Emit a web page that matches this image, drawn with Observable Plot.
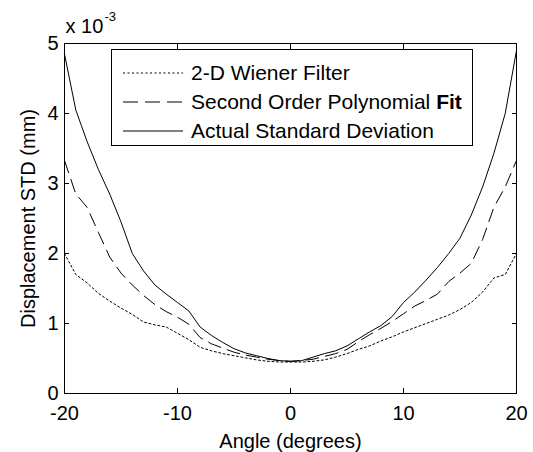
<!DOCTYPE html>
<html>
<head>
<meta charset="utf-8">
<script src="https://cdn.jsdelivr.net/npm/d3@7"></script>
<script src="https://cdn.jsdelivr.net/npm/@observablehq/plot@0.6"></script>
<style>
  body { margin: 0; background: #fff; }
  #wrap { position: relative; width: 533px; height: 452px; font-family: "Liberation Sans", Arial, sans-serif; color: #000; }
  #legend { position: absolute; left: 111px; top: 49px; width: 362px; height: 97px; border: 1px solid #000; box-sizing: border-box; background: #fff; font-size: 21px; }
  .row { position: absolute; left: 0; height: 28px; display: flex; align-items: center; white-space: nowrap; }
  .row svg { margin-left: 11px; margin-right: 8px; }
</style>
</head>
<body>
<div id="wrap"></div>
<script>
// Angle (degrees)
const angles = [-20,-19,-18,-17,-16,-15,-14,-13,-12,-11,-10,-9,-8,-7,-6,-5,-4,-3,-2,-1,0,1,2,3,4,5,6,7,8,9,10,11,12,13,14,15,16,17,18,19,20];
// Displacement STD (mm), values x 10^-3
const wiener = [2.00,1.70,1.58,1.43,1.32,1.22,1.13,1.02,0.98,0.95,0.86,0.77,0.66,0.61,0.57,0.54,0.51,0.48,0.46,0.45,0.45,0.45,0.46,0.48,0.52,0.57,0.63,0.68,0.75,0.81,0.88,0.94,1.00,1.06,1.12,1.20,1.30,1.45,1.65,1.70,2.00];
const polyFit = [3.33,2.85,2.66,2.30,1.95,1.72,1.55,1.40,1.27,1.17,1.09,0.99,0.80,0.71,0.65,0.59,0.55,0.52,0.49,0.47,0.46,0.47,0.49,0.53,0.57,0.63,0.74,0.84,0.93,1.03,1.14,1.25,1.33,1.42,1.60,1.72,1.86,2.20,2.66,2.95,3.33];
const actual = [4.85,4.05,3.60,3.20,2.85,2.45,2.00,1.75,1.55,1.42,1.30,1.18,0.95,0.83,0.73,0.64,0.58,0.54,0.50,0.47,0.46,0.47,0.52,0.57,0.61,0.68,0.78,0.88,0.97,1.10,1.30,1.45,1.62,1.80,2.00,2.22,2.55,2.95,3.43,4.00,4.90];
const scaleExp = 1e-3;
const xTicks = [-20,-10,0,10,20];
const yTicks = [0,1,2,3,4,5].map(v => v * scaleExp);
const seriesNames = ["2-D Wiener Filter", "Second Order Polynomial Fit", "Actual Standard Deviation"];
const dashes = ["2,2.5", "13,7", null];

const seriesData = [wiener, polyFit, actual];
const font = '"Liberation Sans", Arial, sans-serif';

const lines = seriesData.map((vals, s) =>
  Plot.line(vals.map((v, i) => ({angle: angles[i], value: v * scaleExp})), {
    x: "angle", y: "value", stroke: "#000", strokeWidth: 1,
    strokeDasharray: dashes[s] || undefined
  })
);

const chart = Plot.plot({
  width: 533, height: 452,
  marginLeft: 64, marginRight: 17, marginTop: 43, marginBottom: 59,
  style: {fontFamily: font, fontSize: "20px", color: "#000", background: "#fff"},
  x: {domain: [-20, 20]},
  y: {domain: [0, 5 * scaleExp]},
  marks: [
    Plot.frame({stroke: "#000"}),
    ...lines,
    Plot.axisX({anchor: "bottom", ticks: xTicks, tickSize: 0, tickPadding: 12, fontSize: 20,
      tickFormat: d => String(d), label: "Angle (degrees)", labelAnchor: "center", labelOffset: 54, labelArrow: false}),
    Plot.axisX({anchor: "bottom", ticks: xTicks, tickSize: -5, tickFormat: () => "", label: null}),
    Plot.axisX({anchor: "top", ticks: xTicks, tickSize: -5, tickFormat: () => "", label: null}),
    Plot.axisY({anchor: "left", ticks: yTicks, tickSize: 0, tickPadding: 6, fontSize: 20,
      tickFormat: d => String(Math.round(d / scaleExp)), label: "Displacement STD (mm)", labelAnchor: "center", labelOffset: 44, labelArrow: false}),
    Plot.axisY({anchor: "left", ticks: yTicks, tickSize: -5, tickFormat: () => "", label: null}),
    Plot.axisY({anchor: "right", ticks: yTicks, tickSize: -5, tickFormat: () => "", label: null}),
    Plot.text(["x 10"], {frameAnchor: "top-left", dx: 1, dy: -17, textAnchor: "start", lineAnchor: "middle", fontSize: 20}),
    Plot.text(["-3"], {frameAnchor: "top-left", dx: 40, dy: -27, textAnchor: "start", lineAnchor: "middle", fontSize: 13})
  ]
});

const wrap = document.getElementById("wrap");
wrap.appendChild(chart);

const legend = document.createElement("div");
legend.id = "legend";
seriesNames.forEach((name, i) => {
  const row = document.createElement("div");
  row.className = "row";
  row.style.top = (9 + i * 29) + "px";
  const dash = dashes[i] ? ` stroke-dasharray="${dashes[i] === "13,7" ? "15,7" : dashes[i]}"` : "";
  const label = name.endsWith(" Fit") ? name.slice(0, -4) + ' <b>Fit</b>' : name;
  row.innerHTML = `<svg width="60" height="10"><line x1="0" y1="5" x2="60" y2="5" stroke="#000" stroke-width="1"${dash}/></svg><span>${label}</span>`;
  legend.appendChild(row);
});
wrap.appendChild(legend);
</script>
</body>
</html>
